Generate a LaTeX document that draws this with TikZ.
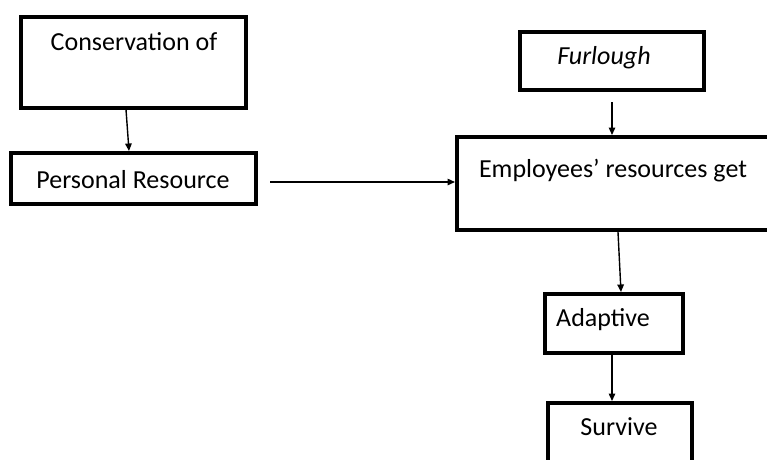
\documentclass[tikz,border=0pt]{standalone}
\usepackage{fontspec}
\setmainfont{Carlito}
\usetikzlibrary{arrows.meta}
\begin{document}
\begin{tikzpicture}[x=1pt,y=-1pt,
  box/.style={draw=black,line width=4pt,rectangle,inner sep=0pt,fill=white},
  lbl/.style={font=\fontsize{26}{30}\selectfont,inner sep=0pt},
  arr/.style={line width=1.4pt,-{Triangle[width=6.5pt,length=7.5pt]}}]
\useasboundingbox (0,0) rectangle (767,459);
\clip (0,0) rectangle (767,459);
\node[box,minimum width=225pt,minimum height=91pt] (cons) at (133.5,62) {};
\node[box,minimum width=245pt,minimum height=51pt] (pers) at (133.5,178.5) {};
\node[box,minimum width=184pt,minimum height=58pt] (furl) at (612,61) {};
\node[box,minimum width=333pt,minimum height=93pt] (empl) at (623.5,183.5) {};
\node[box,minimum width=138pt,minimum height=59pt] (adap) at (614,323.5) {};
\node[box,minimum width=144pt,minimum height=77pt] (surv) at (620,441.5) {};
\node[lbl] (t1) at (134,42) {Conservation of};
\node[lbl] (t2) at (133,180) {Personal Resource};
\node[lbl] (t3) at (604,58) {\itshape Furlough};
\node[lbl] (t4) at (613,171) {Employees’ resources get};
\node[lbl] (t5) at (603,320) {Adaptive};
\node[lbl] (t6) at (619,427) {Survive};
\draw[arr] ([xshift=-7.5pt]cons.south) -- ([xshift=-4.5pt]pers.north);
\draw[arr] ([shift={(12,3.5)}]pers.east) -- (empl.west |- 0,182);
\draw[arr] ([yshift=-10pt]furl.south) -- (furl.south |- empl.north);
\draw[arr] ([xshift=4pt]empl.south -| adap.north) -- ([xshift=7pt]adap.north);
\draw[arr] (adap.south -| surv.north) ++(-8,0) -- ([xshift=-8pt]surv.north);
\end{tikzpicture}
\end{document}
